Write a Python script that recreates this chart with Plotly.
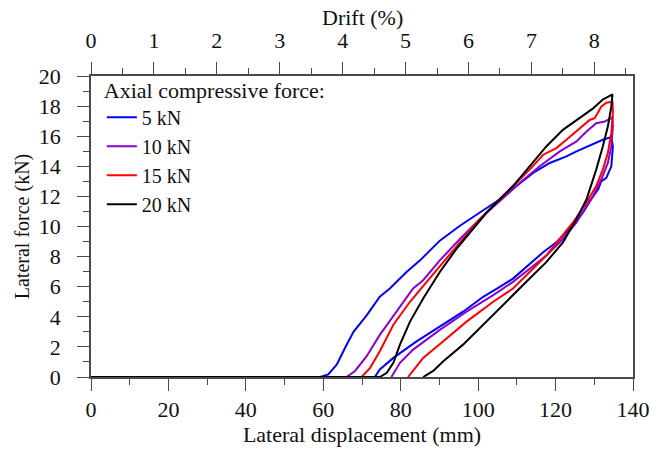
import plotly.graph_objects as go

# Lateral displacement (mm) and lateral force (kN) for each axial load level.
# Each path: flat start at zero, loading branch up to the peak, unloading branch back to zero.
disp_5kN = [0, 59.2, 61.3, 63.5, 65.6, 67.8, 71.2, 74.6, 77.2, 81.5, 85.0, 90.1, 95.3, 100.4, 105.6,
            109.9, 114.2, 118.5, 122.8, 125.4, 128.8, 132.2, 134.4,
            134.8, 134.4, 133.1, 131.8, 131.0, 129.2, 127.1, 123.6, 120.2, 116.8, 113.3, 109.0,
            105.6, 101.3, 96.1, 90.1, 84.1, 78.1, 74.6, 73.3]
force_5kN = [0, 0, 0.17, 0.83, 1.93, 3.0, 4.1, 5.33, 5.88, 6.98, 7.75, 9.06, 10.05, 10.93, 11.81,
             12.69, 13.56, 14.22, 14.66, 14.99, 15.36, 15.76, 15.94,
             15.32, 14.0, 13.23, 13.0, 12.47, 11.81, 10.93, 9.83, 8.95, 8.29, 7.53, 6.54,
             5.99, 5.33, 4.34, 3.35, 2.37, 1.27, 0.50, 0]

disp_10kN = [0, 66.0, 68.2, 71.2, 74.6, 78.9, 83.2, 85.8, 90.1, 95.3, 100.4, 105.6, 110.8, 115.9,
             121.1, 125.4, 128.0, 130.5, 132.7, 134.7,
             134.8, 134.4, 133.5, 131.8, 129.7, 128.0, 125.4, 121.9, 117.6, 113.3, 109.0, 103.9,
             97.0, 90.1, 83.2, 79.8, 77.6]
force_10kN = [0, 0, 0.4, 1.38, 2.8, 4.34, 5.88, 6.43, 7.75, 9.17, 10.49, 11.7, 12.9, 14.0,
              14.99, 15.65, 16.31, 16.86, 16.97, 17.25,
              16.64, 15.32, 14.22, 13.12, 12.03, 11.37, 10.27, 9.17, 8.07, 7.19, 6.32, 5.44,
              4.34, 3.13, 1.82, 0.94, 0]

disp_15kN = [0, 69.9, 72.1, 74.6, 78.1, 82.4, 86.7, 91.8, 96.1, 100.4, 104.7, 109.0, 113.3, 116.8,
             120.2, 122.8, 126.2, 128.8, 130.1, 131.8, 133.1, 134.7,
             134.8, 134.4, 133.5, 132.2, 130.5, 128.0, 124.5, 121.1, 117.6, 113.3, 109.0, 103.9,
             97.0, 91.0, 85.8, 81.9]
force_15kN = [0, 0, 0.61, 1.71, 3.47, 5.0, 6.32, 7.86, 9.17, 10.49, 11.59, 12.69, 13.78, 14.77,
              15.21, 15.76, 16.53, 17.08, 17.19, 17.96, 18.22, 18.29,
              17.52, 16.2, 14.88, 13.78, 12.69, 11.59, 10.27, 9.17, 8.07, 6.98, 5.88, 5.0,
              3.68, 2.37, 1.27, 0]

disp_20kN = [0, 74.6, 76.4, 78.1, 79.8, 82.4, 85.8, 90.1, 94.4, 98.7, 102.2, 105.6, 109.0, 113.3,
             117.6, 121.9, 126.2, 129.7, 132.2, 134.7,
             134.4, 133.5, 132.2, 130.5, 128.0, 125.4, 121.9, 117.6, 113.3, 108.2, 102.2, 96.1,
             91.0, 88.4, 85.8]
force_20kN = [0, 0, 0.28, 0.94, 2.15, 3.68, 5.22, 6.98, 8.51, 9.83, 10.93, 11.81, 12.69, 14.0,
              15.32, 16.42, 17.19, 17.85, 18.44, 18.77,
              17.96, 16.64, 15.32, 13.78, 11.81, 10.49, 8.95, 7.63, 6.54, 5.22, 3.68, 2.15,
              1.05, 0.4, 0]

series_names = ["5 kN", "10 kN", "15 kN", "20 kN"]
series_colors = ["#0000ff", "#8b00d2", "#ff0000", "#000000"]
series_x = [disp_5kN, disp_10kN, disp_15kN, disp_20kN]
series_y = [force_5kN, force_10kN, force_15kN, force_20kN]

# Drift (%) = displacement / specimen height
height_mm = 1625.0
drift_ticks = [0, 1, 2, 3, 4, 5, 6, 7, 8]
disp_ticks = [0, 20, 40, 60, 80, 100, 120, 140]
force_ticks = [0, 2, 4, 6, 8, 10, 12, 14, 16, 18, 20]

FONT = "Liberation Serif, Times New Roman, serif"
AXIS_COLOR = "#4a4a4a"
TEXT_COLOR = "#111111"
FS = 22

fig = go.Figure()
for name, color, xs, ys in zip(series_names, series_colors, series_x, series_y):
    fig.add_trace(go.Scatter(x=xs, y=ys, mode="lines", name=name,
                             line=dict(color=color, width=2)))

# invisible trace carrying the top drift axis
fig.add_trace(go.Scatter(x=[0, 140 / height_mm * 100], y=[0, 0], xaxis="x2", mode="lines",
                         line=dict(width=0), showlegend=False, hoverinfo="skip"))

axis_common = dict(showline=True, linecolor=AXIS_COLOR, linewidth=1.5, showgrid=False,
                   zeroline=False, ticks="outside", ticklen=12, tickwidth=1.2,
                   tickcolor=AXIS_COLOR, tickfont=dict(family=FONT, size=FS, color=TEXT_COLOR))
minor_common = dict(ticks="outside", ticklen=6, tickcolor=AXIS_COLOR, tickwidth=1.2)

fig.update_layout(
    width=665, height=452,
    margin=dict(l=91, r=32, t=76, b=73),
    paper_bgcolor="white", plot_bgcolor="white",
    font=dict(family=FONT, size=FS, color=TEXT_COLOR),
    xaxis=dict(range=[0, 140], tickvals=disp_ticks, minor=dict(dtick=10, **minor_common),
               title=dict(text="Lateral displacement (mm)", font=dict(family=FONT, size=FS),
                          standoff=2),
               **axis_common),
    xaxis2=dict(range=[0, 140 / height_mm * 100], overlaying="x", side="top", anchor="y",
                tickvals=drift_ticks, minor=dict(dtick=0.5, **minor_common),
                ticklabelstandoff=5,
                **axis_common),
    yaxis=dict(range=[0, 20], tickvals=force_ticks, mirror=True,
               minor=dict(dtick=1, **minor_common), ticklabelstandoff=12,
               title=dict(text="Lateral force (kN)", font=dict(family=FONT, size=20), standoff=4),
               **axis_common),
    legend=dict(x=0.02, y=1.023, xanchor="left", yanchor="top",
                bgcolor="rgba(0,0,0,0)", font=dict(family=FONT, size=20, color=TEXT_COLOR),
                title=dict(text="Axial compressive force:", font=dict(family=FONT, size=FS)),
                tracegroupgap=0),
    showlegend=True,
    annotations=[dict(text="Drift (%)", xref="paper", yref="paper", x=0.5, y=1.195,
                      xanchor="center", yanchor="middle", showarrow=False,
                      font=dict(family=FONT, size=FS, color=TEXT_COLOR))],
)

fig.write_html("out.html")
